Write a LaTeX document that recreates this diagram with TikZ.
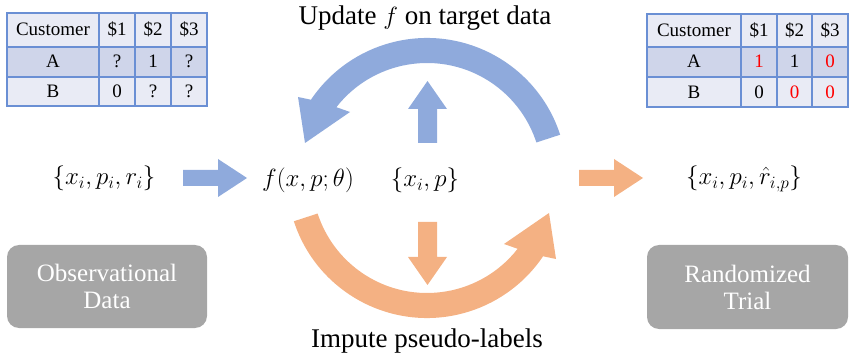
\documentclass[tikz,border=0pt]{standalone}
\usepackage{fontspec}
\setmainfont{Liberation Serif}
\usetikzlibrary{calc}
\definecolor{arcblue}{HTML}{8FAADC}
\definecolor{arcorange}{HTML}{F4B183}
\definecolor{boxgrey}{HTML}{A6A6A6}
\definecolor{tabline}{HTML}{6A8FD4}
\definecolor{tablight}{HTML}{E9EBF5}
\definecolor{tabdark}{HTML}{CFD5EA}
\definecolor{impred}{HTML}{FF0000}
\tikzset{
  cell/.style={font=\fontsize{19}{22}\selectfont, inner sep=0pt, anchor=base},
  redcell/.style={cell, text=impred},
  gridline/.style={draw=tabline, line width=1.3pt},
  greybox/.style={fill=boxgrey, rounded corners=12pt, text=white, align=center,
    font=\fontsize{25}{27}\selectfont, inner sep=0pt},
  mathlabel/.style={font=\fontsize{25}{28}\selectfont, inner sep=0pt, anchor=base},
  caption/.style={font=\fontsize{27}{30}\selectfont, inner sep=0pt, anchor=base},
}
\begin{document}
\begin{tikzpicture}[x=1pt,y=1pt]
\useasboundingbox (0,0) rectangle (850,353);

% ---------- left table ----------
\fill[tablight] (7,306) rectangle (207,340);
\fill[tabdark]  (7,276) rectangle (207,306);
\fill[tablight] (7,247) rectangle (207,276);
\draw[gridline] (7,247) rectangle (207,340);
\draw[gridline] (7,306) -- (207,306) (7,276) -- (207,276);
\draw[gridline] (99,247) -- (99,340) (135,247) -- (135,340) (171,247) -- (171,340);
\node[cell] (lh0) at (53,317) {Customer};
\node[cell] (lh1) at (117,317) {\$1};
\node[cell] (lh2) at (153,317) {\$2};
\node[cell] (lh3) at (189,317) {\$3};
\node[cell] (la0) at (53,285) {A};
\node[cell] (la1) at (117,285) {?};
\node[cell] (la2) at (153,285) {1};
\node[cell] (la3) at (189,285) {?};
\node[cell] (lb0) at (53,255) {B};
\node[cell] (lb1) at (117,255) {0};
\node[cell] (lb2) at (153,255) {?};
\node[cell] (lb3) at (189,255) {?};

% ---------- right table ----------
\fill[tablight] (647,306) rectangle (848,339);
\fill[tabdark]  (647,276) rectangle (848,306);
\fill[tablight] (647,246) rectangle (848,276);
\draw[gridline] (647,246) rectangle (848,339);
\draw[gridline] (647,306) -- (848,306) (647,276) -- (848,276);
\draw[gridline] (741,246) -- (741,339) (777,246) -- (777,339) (812,246) -- (812,339);
\node[cell] (rh0) at (694,316.5) {Customer};
\node[cell] (rh1) at (759,316.5) {\$1};
\node[cell] (rh2) at (794.5,316.5) {\$2};
\node[cell] (rh3) at (830,316.5) {\$3};
\node[cell] (ra0) at (694,285) {A};
\node[redcell] (ra1) at (759,285) {1};
\node[cell] (ra2) at (794.5,285) {1};
\node[redcell] (ra3) at (830,285) {0};
\node[cell] (rb0) at (694,254.5) {B};
\node[cell] (rb1) at (759,254.5) {0};
\node[redcell] (rb2) at (794.5,254.5) {0};
\node[redcell] (rb3) at (830,254.5) {0};

% ---------- grey boxes ----------
\node[greybox, minimum width=200pt, minimum height=83pt] (obs) at (107,66.5) {Observational\\Data};
\node[greybox, minimum width=201pt, minimum height=84pt] (rct) at (747.5,66) {Randomized\\Trial};

% ---------- curved arrows ----------
\coordinate (C) at (427,175);
\fill[arcblue] ($(C)+(18:140)$) arc[start angle=18,end angle=146,radius=140]
  -- ($(C)+(-129,81)$) -- ($(C)+(-122,35)$) -- ($(C)+(-77,66)$)
  -- ($(C)+(142:115)$) arc[start angle=142,end angle=18,radius=115] -- cycle;
\fill[arcorange] ($(C)+(198:140)$) arc[start angle=198,end angle=326,radius=140]
  -- ($(C)+(129,-81)$) -- ($(C)+(122,-35)$) -- ($(C)+(77,-66)$)
  -- ($(C)+(322:115)$) arc[start angle=322,end angle=198,radius=115] -- cycle;

% ---------- straight block arrows ----------
\fill[arcblue] (418,210) -- (418,244) -- (408,244) -- (427.5,272) -- (447,244) -- (437,244) -- (437,210) -- cycle;
\fill[arcorange] (418,131) -- (418,96) -- (408,96) -- (427.5,68) -- (447,96) -- (437,96) -- (437,131) -- cycle;
\fill[arcblue] (183,167) -- (218,167) -- (218,156) -- (247,175) -- (218,194) -- (218,183) -- (183,183) -- cycle;
\fill[arcorange] (579,167) -- (614,167) -- (614,156) -- (643,175) -- (614,194) -- (614,183) -- (579,183) -- cycle;

% ---------- formulas ----------
\node[mathlabel] (src) at (104,168) {$\{x_i,p_i,r_i\}$};
\node[mathlabel] (model) at (308,166) {$f(x,p;\theta)$};
\node[mathlabel] (tgt) at (425,166) {$\{x_i,p\}$};
\node[mathlabel] (out) at (744,168) {$\{x_i,p_i,\hat r_{i,p}\}$};

% ---------- captions ----------
\node[caption] (upd) at (425,328) {Update $f$ on target data};
\node[caption] (imp) at (427,6) {Impute pseudo-labels};
\end{tikzpicture}
\end{document}
